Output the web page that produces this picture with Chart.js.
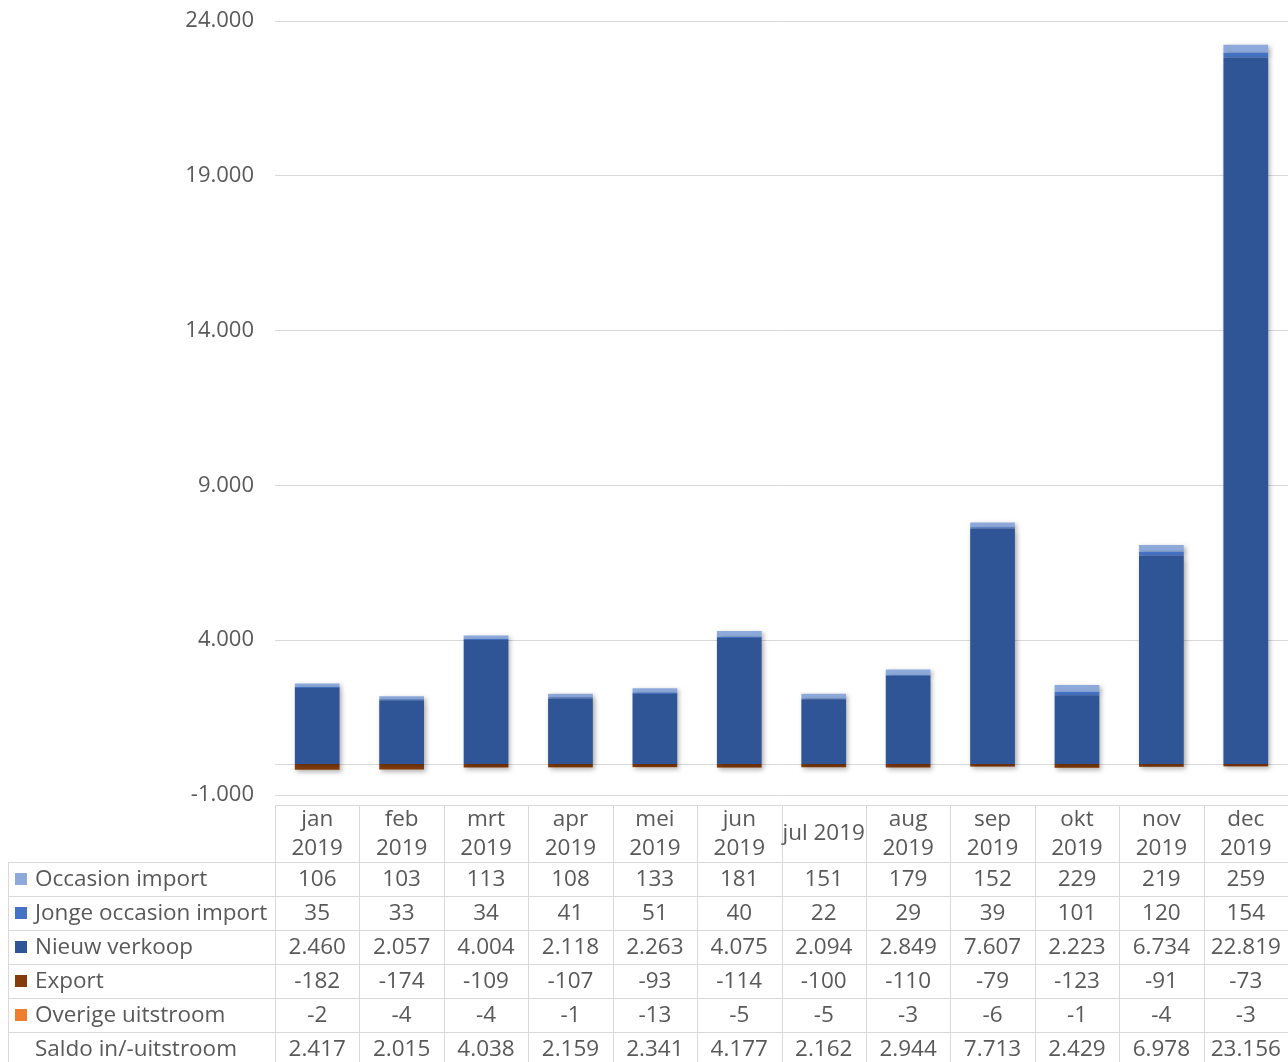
<!DOCTYPE html>
<html>
<head>
<meta charset="utf-8">
<script src="https://cdn.jsdelivr.net/npm/chart.js@4/dist/chart.umd.min.js"></script>
<style>
  body { margin: 0; background: #fff; }
  #wrap { width: 1288px; height: 1062px; position: relative; }
</style>
</head>
<body>
<div id="wrap"><canvas id="grafiek"></canvas></div>
<script>
// maanden (kop van de tabel, zoals in het origineel afgebroken)
const maanden = [['jan', '2019'], ['feb', '2019'], ['mrt', '2019'], ['apr', '2019'], ['mei', '2019'], ['jun', '2019'],
    ['jul 2019'], ['aug', '2019'], ['sep', '2019'], ['okt', '2019'], ['nov', '2019'], ['dec', '2019']];

const occasionImport = [106, 103, 113, 108, 133, 181, 151, 179, 152, 229, 219, 259];
const jongeOccasion = [35, 33, 34, 41, 51, 40, 22, 29, 39, 101, 120, 154];
const nieuwVerkoop = [2460, 2057, 4004, 2118, 2263, 4075, 2094, 2849, 7607, 2223, 6734, 22819];
const exportData = [-182, -174, -109, -107, -93, -114, -100, -110, -79, -123, -91, -73];
const overigeUitstroom = [-2, -4, -4, -1, -13, -5, -5, -3, -6, -1, -4, -3];
const saldo = [2417, 2015, 4038, 2159, 2341, 4177, 2162, 2944, 7713, 2429, 6978, 23156];

const yTicks = [-1000, 4000, 9000, 14000, 19000, 24000];

const tekstKleur = '#595959';
const lijnKleur = '#d9d9d9';
const lettertype = '"Open Sans", Lato, sans-serif';

function fmt(n) {
    const s = String(Math.abs(n)).replace(/\B(?=(\d{3})+(?!\d))/g, '.');
    return (n < 0 ? '-' : '') + s;
}

// rijen van de datatabel
const tabelRijen = [
    {label: 'Occasion import', kleur: '#8eaadb', data: occasionImport},
    {label: 'Jonge occasion import', kleur: '#4472c4', data: jongeOccasion},
    {label: 'Nieuw verkoop', kleur: '#2f5597', data: nieuwVerkoop},
    {label: 'Export', kleur: '#843c0c', data: exportData},
    {label: 'Overige uitstroom', kleur: '#ed7d31', data: overigeUitstroom},
    {label: 'Saldo in/-uitstroom', kleur: null, data: saldo}
];

const schaduw = {
    id: 'schaduw',
    beforeDatasetsDraw(chart) {
        const ctx = chart.ctx;
        ctx.save();
        ctx.shadowColor = 'rgba(0,0,0,0.35)';
        ctx.shadowBlur = 5;
        ctx.shadowOffsetX = 2;
        ctx.shadowOffsetY = 2;
    },
    afterDatasetsDraw(chart) {
        chart.ctx.restore();
    }
};

const tabel = {
    id: 'tabel',
    beforeDatasetsDraw(chart) {
        // horizontale as op 0
        const ctx = chart.ctx;
        const y0 = Math.round(chart.scales.y.getPixelForValue(0)) + 0.5;
        ctx.save();
        ctx.strokeStyle = lijnKleur;
        ctx.lineWidth = 1;
        ctx.beginPath();
        ctx.moveTo(chart.chartArea.left, y0);
        ctx.lineTo(chart.chartArea.right, y0);
        ctx.stroke();
        ctx.restore();
    },
    afterDraw(chart) {
        const ctx = chart.ctx;
        const xs = chart.scales.x;
        const area = chart.chartArea;
        const kolom = area.width / maanden.length;
        const kopTop = 805, kopHoogte = 57, rijHoogte = 34;
        const tabelTop = kopTop + kopHoogte;
        const links = 8;
        const onder = tabelTop + rijHoogte * tabelRijen.length;

        ctx.save();
        ctx.strokeStyle = lijnKleur;
        ctx.lineWidth = 1;
        ctx.beginPath();
        // bovenrand kop
        ctx.moveTo(area.left, kopTop + 0.5);
        ctx.lineTo(area.right, kopTop + 0.5);
        // rijlijnen
        for (let r = 0; r <= tabelRijen.length; r++) {
            const y = Math.round(tabelTop + r * rijHoogte) + 0.5;
            ctx.moveTo(links, y);
            ctx.lineTo(area.right, y);
        }
        // verticale lijnen
        ctx.moveTo(links + 0.5, tabelTop);
        ctx.lineTo(links + 0.5, onder);
        for (let i = 0; i <= maanden.length; i++) {
            const x = Math.round(area.left + i * kolom) + 0.5;
            ctx.moveTo(x, kopTop);
            ctx.lineTo(x, onder);
        }
        ctx.stroke();

        ctx.fillStyle = tekstKleur;
        ctx.font = '22.5px ' + lettertype;
        ctx.textAlign = 'center';
        ctx.textBaseline = 'middle';
        maanden.forEach((m, i) => {
            const x = xs.getPixelForValue(i);
            if (m.length === 1) {
                ctx.fillText(m[0], x, kopTop + kopHoogte / 2);
            } else {
                ctx.fillText(m[0], x, kopTop + 15);
                ctx.fillText(m[1], x, kopTop + 44);
            }
        });

        tabelRijen.forEach((rij, r) => {
            const yc = tabelTop + r * rijHoogte + rijHoogte / 2 + 1;
            if (rij.kleur) {
                ctx.fillStyle = rij.kleur;
                ctx.fillRect(15, yc - 7, 12, 12);
            }
            ctx.fillStyle = tekstKleur;
            ctx.textAlign = 'left';
            ctx.fillText(rij.label, 35, yc);
            ctx.textAlign = 'center';
            rij.data.forEach((v, i) => {
                ctx.fillText(fmt(v), xs.getPixelForValue(i), yc);
            });
        });
        ctx.restore();
    }
};

const data = {
    labels: maanden.map(m => m.join(' ')),
    datasets: [
        {label: 'Nieuw verkoop', data: nieuwVerkoop, backgroundColor: '#2f5597'},
        {label: 'Jonge occasion import', data: jongeOccasion, backgroundColor: '#4472c4'},
        {label: 'Occasion import', data: occasionImport, backgroundColor: '#8eaadb'},
        {label: 'Export', data: exportData, backgroundColor: '#843c0c'},
        {label: 'Overige uitstroom', data: overigeUitstroom, backgroundColor: '#ed7d31'}
    ]
};

const config = {
    type: 'bar',
    data,
    options: {
        responsive: true,
        maintainAspectRatio: false,
        animation: false,
        layout: {padding: {top: 21, bottom: 267, left: 0, right: 0}},
        datasets: {bar: {categoryPercentage: 1, barPercentage: 0.53, borderWidth: 0}},
        scales: {
            x: {
                stacked: true,
                display: false
            },
            y: {
                stacked: true,
                min: -1000,
                max: 24000,
                afterFit: function(scale) {
                    scale.width = 275;
                    scale.paddingTop = 0;
                    scale.paddingBottom = 0;
                },
                afterBuildTicks: function(scale) { scale.ticks = yTicks.map(v => ({value: v})); },
                border: {display: false},
                grid: {color: lijnKleur, drawTicks: false},
                ticks: {
                    padding: 21,
                    color: tekstKleur,
                    font: {family: lettertype, size: 22},
                    callback: function(value) { return fmt(value); }
                }
            }
        },
        plugins: {
            legend: {display: false},
            tooltip: {enabled: false}
        }
    },
    plugins: [tabel, schaduw]
};

new Chart(document.getElementById('grafiek'), config);
</script>
</body>
</html>
